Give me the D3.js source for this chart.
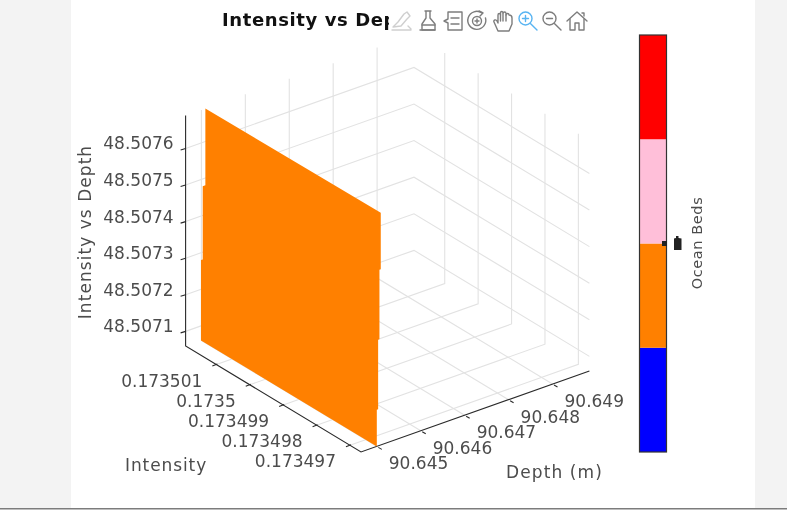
<!DOCTYPE html>
<html>
<head>
<meta charset="utf-8">
<script src="https://d3js.org/d3.v7.min.js"></script>
<style>
  body { margin: 0; background: #fff; }
  svg { display: block; filter: blur(0.35px); }
  text { font-family: "DejaVu Sans", sans-serif; fill: #4c4c4c; }
  .grid { stroke: #e2e2e2; stroke-width: 1.1; fill: none; }
  .axis { stroke: #2a2a2a; stroke-width: 1.1; fill: none; }
  .icon path { fill: none; stroke: #7d7d7d; stroke-width: 1.4; stroke-linejoin: round; stroke-linecap: round; }
</style>
</head>
<body>
<svg id="chart" width="787" height="523"></svg>
<script>
// values
const depthTicks = [90.645, 90.646, 90.647, 90.648, 90.649];
const depthLabels = ['90.645', '90.646', '90.647', '90.648', '90.649'];
const intensityTicks = [0.173501, 0.1735, 0.173499, 0.173498, 0.173497];
const intensityLabels = ['0.173501', '0.1735', '0.173499', '0.173498', '0.173497'];
const levelTicks = [48.5071, 48.5072, 48.5073, 48.5074, 48.5075, 48.5076];
const levelLabels = ['48.5071', '48.5072', '48.5073', '48.5074', '48.5075', '48.5076'];

// the orange sheet: stepped edges at both ends of the intensity range
const sheetIntensity = [0.17350192, 0.17349667];
const edgeLevelsA = [48.50706, 48.50728, 48.50728, 48.50748, 48.50748, 48.50769];
const edgeDepthsA = [90.64499, 90.64499, 90.64503, 90.64503, 90.64509, 90.64509];
const edgeLevelsB = [48.50706, 48.50716, 48.50716, 48.50735, 48.50735, 48.50754, 48.50754, 48.507695];
const edgeDepthsB = [90.64500, 90.64500, 90.64503, 90.64503, 90.64506, 90.64506, 90.64509, 90.64509];

const bedColors = ['#0000ff', '#ff8000', '#ffbfd9', '#ff0000'];
const bedSlots = [0, 1, 2, 3];

const svg = d3.select('svg#chart');

// page and panel
svg.append('rect').attr('width', 787).attr('height', 508).attr('fill', '#f3f3f3');
svg.append('rect').attr('x', 71).attr('width', 684).attr('height', 508).attr('fill', '#fff');
svg.append('rect').attr('y', 508).attr('width', 787).attr('height', 1.5).attr('fill', '#7c7c7c');

// each axis scale gives a 0-1 position along its edge of the box
const depthScale = d3.scaleLinear().domain([90.64464, 90.64984]).range([0, 1]);
const intensityScale = d3.scaleLinear().domain([0.17350192, 0.17349667]).range([0, 1]);
const levelScale = d3.scaleLinear().domain([48.50706, 48.50769]).range([0, 1]);

const origin = [185.6, 346];
const depthVec = [228.4, -81];
const intensityVec = [175.4, 106];
const levelVec = [0, -230.5];

function project(depth, intensity, level) {
  const a = depthScale(depth), b = intensityScale(intensity), c = levelScale(level);
  return [
    origin[0] + a * depthVec[0] + b * intensityVec[0] + c * levelVec[0],
    origin[1] + a * depthVec[1] + b * intensityVec[1] + c * levelVec[1]
  ];
}

const d0 = depthScale.domain()[0], d1 = depthScale.domain()[1];
const i0 = intensityScale.domain()[0], i1 = intensityScale.domain()[1];
const l0 = levelScale.domain()[0], l1 = levelScale.domain()[1];
const line = d3.line();

// gridlines
const grid = svg.append('g');
levelTicks.forEach(l => {
  grid.append('path').attr('class', 'grid')
    .attr('d', line([project(d0, i0, l), project(d1, i0, l), project(d1, i1, l)]));
});
depthTicks.forEach(d => {
  grid.append('path').attr('class', 'grid')
    .attr('d', line([project(d, i1, l0), project(d, i0, l0), project(d, i0, l1)]));
});
intensityTicks.forEach(i => {
  grid.append('path').attr('class', 'grid')
    .attr('d', line([project(d0, i, l0), project(d1, i, l0), project(d1, i, l1)]));
});

// box edges
svg.append('path').attr('class', 'axis')
  .attr('d', line([project(d0, i0, l1), project(d0, i0, l0), project(d0, i1, l0), project(d1, i1, l0)]));

// tick stubs
const ticks = svg.append('g');
levelTicks.forEach(l => {
  const p = project(d0, i0, l);
  ticks.append('path').attr('class', 'axis').attr('d', line([p, [p[0] - 5, p[1] + 1.5]]));
});
depthTicks.forEach(d => {
  const p = project(d, i1, l0);
  ticks.append('path').attr('class', 'axis').attr('d', line([[p[0] + 1.5, p[1] + 1], [p[0] + 5, p[1] + 3]]));
});
intensityTicks.forEach(i => {
  const p = project(d0, i, l0);
  ticks.append('path').attr('class', 'axis').attr('d', line([[p[0] + 1, p[1] - 0.5], [p[0] - 4, p[1] + 1.5]]));
});

// orange sheet
const edgeA = edgeLevelsA.map((l, k) => project(edgeDepthsA[k], sheetIntensity[0], l));
const edgeB = edgeLevelsB.map((l, k) => project(edgeDepthsB[k], sheetIntensity[1], l));
svg.append('path')
  .attr('d', line(edgeA.concat(edgeB.reverse())) + 'Z')
  .attr('fill', '#ff8000');

// tick labels
const fs = 17;
svg.append('g').selectAll('text').data(levelTicks).join('text')
  .attr('x', d => project(d0, i0, d)[0] - 12)
  .attr('y', d => project(d0, i0, d)[1] + 1)
  .attr('text-anchor', 'end').attr('font-size', fs)
  .text((d, k) => levelLabels[k]);
svg.append('g').selectAll('text').data(intensityTicks).join('text')
  .attr('x', d => project(d0, d, l0)[0] - 14)
  .attr('y', d => project(d0, d, l0)[1] + 22)
  .attr('text-anchor', 'end').attr('font-size', fs)
  .text((d, k) => intensityLabels[k]);
svg.append('g').selectAll('text').data(depthTicks).join('text')
  .attr('x', d => project(d, i1, l0)[0] + 12)
  .attr('y', d => project(d, i1, l0)[1] + 23)
  .attr('font-size', fs)
  .text((d, k) => depthLabels[k]);

// axis titles
svg.append('text').attr('transform', 'translate(91,232) rotate(-90)')
  .attr('text-anchor', 'middle').attr('font-size', fs).attr('letter-spacing', 1.05).text('Intensity vs Depth');
svg.append('text').attr('x', 125).attr('y', 471).attr('font-size', fs).attr('letter-spacing', 0.9).text('Intensity');
svg.append('text').attr('x', 506).attr('y', 478).attr('font-size', fs).attr('letter-spacing', 1.1).text('Depth (m)');

// chart title, the toolbar sits on top of its end
svg.append('text').attr('x', 222).attr('y', 26)
  .attr('font-size', 18).attr('font-weight', 'bold').attr('letter-spacing', 0.6).style('fill', '#111')
  .text('Intensity vs Depth');
svg.append('rect').attr('x', 389).attr('y', 8).attr('width', 202).attr('height', 26).attr('fill', '#fff');

// colour bar
const barScale = d3.scaleLinear().domain([0, 4]).range([452, 35]);
svg.append('g').selectAll('rect').data(bedSlots).join('rect')
  .attr('x', 639.5).attr('width', 27)
  .attr('y', d => barScale(d + 1))
  .attr('height', d => barScale(d) - barScale(d + 1))
  .attr('fill', d => bedColors[d]);
svg.append('rect').attr('x', 639.5).attr('y', 35).attr('width', 27).attr('height', 417)
  .attr('fill', 'none').attr('stroke', '#333').attr('stroke-width', 1.2);
svg.append('rect').attr('x', 662).attr('y', 241).attr('width', 5).attr('height', 5).attr('fill', '#222');
svg.append('path').attr('d', 'M674 250V238.5L676 238V236H678.5V238L681.5 238.5V250Z').attr('fill', '#222');
svg.append('text').attr('transform', 'translate(702,243) rotate(-90)')
  .attr('text-anchor', 'middle').attr('font-size', 14.5).attr('letter-spacing', 0.6).text('Ocean Beds');

// toolbar icons
function icon(x, parts, color) {
  const g = svg.append('g').attr('class', 'icon').attr('transform', `translate(${x},21)`);
  parts.forEach(d => {
    const p = g.append('path').attr('d', d);
    if (color) p.style('stroke', color);
  });
}
const glass = 'M-9 -2.5A6.5 6.5 0 1 0 4 -2.5A6.5 6.5 0 1 0 -9 -2.5M2.4 2.4L9 9';
icon(402, ['M-9 6L-4 1L2 -7L5 -9L8 -5L5 -2L-1 5Z', 'M-10 9H9M6 5L9 8'], '#cfcfcf');
icon(428, ['M-3 -10H3M-2 -10V-3L-6 3V9H7V3L2 -3V-10', 'M-6 4H7M-8 9H7']);
icon(453, ['M-5 -9H9V9H-5V2L-9 0L-5 -2Z', 'M-2 -3H6M-2 3H6']);
icon(477, ['M5 -8A9 9 0 1 0 8.5 -3', 'M2 -10L6 -8L3 -5', 'M-4.5 0A4.5 4.5 0 1 0 4.5 0A4.5 4.5 0 1 0 -4.5 0', 'M-2 0H2M0 -2V2']);
icon(503, ['M-5 10L-9 1C-10 -1 -7 -2 -6 0L-5 2V-6C-5 -8 -2.5 -8 -2.5 -6V-8C-2.5 -10 0 -10 0 -8V-7.5C0 -9.5 3 -9.5 3 -7.5V-6C3 -8 6 -8 6 -6C7 -6 9 -6 9 -3V3L6 10Z', 'M-2.5 -6V0M0 -7V0M3 -6V0']);
icon(528, [glass, 'M-5.5 -2.5H0.5M-2.5 -5.5V0.5'], '#58b4f2');
icon(552, [glass, 'M-5.5 -2.5H0.5']);
icon(577, ['M-10 0L0 -9L10 0', 'M-7 -2V9H-2V2H2V9H7V-2', 'M5 -8H7V-5']);
</script>
</body>
</html>
